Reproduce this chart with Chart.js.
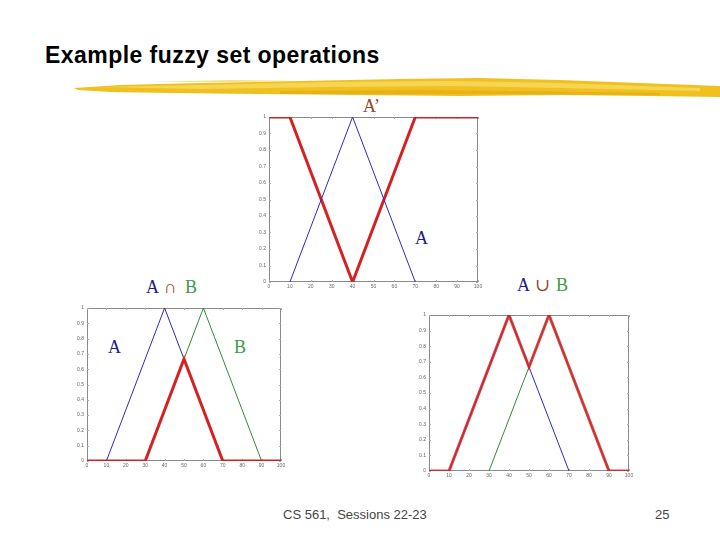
<!DOCTYPE html>
<html>
<head>
<meta charset="utf-8">
<script src="https://cdn.jsdelivr.net/npm/chart.js@4/dist/chart.umd.min.js"></script>
<style>
  html, body { margin: 0; padding: 0; background: #fff; }
  #slide { position: relative; width: 720px; height: 540px; overflow: hidden; }
  canvas { position: absolute; }
  .t { position: absolute; line-height: 1; white-space: nowrap; }
  .serif { font-family: "Liberation Serif", "DejaVu Serif", serif; font-size: 18px; }
  .navy { color: #1c1c8a; }
  .green { color: #3c9a46; }
  .brown { color: #8e4a22; }
</style>
</head>
<body>
<div id="slide">
  <div class="t" style="left:45px;top:42px;font:bold 23px 'Liberation Sans',Arial,sans-serif;letter-spacing:0.45px;color:#000;">Example fuzzy set operations</div>

  <svg style="position:absolute;left:0;top:0" width="720" height="540">
    <polygon points="74,88 120,85 200,83 300,81 400,79 480,78 560,80 640,83 720,86 720,97 650,96 560,95 460,96 360,95 260,94 170,93 110,92 78,90" fill="#efc020"/>
    <polygon points="95,87 200,85 330,82 450,81 560,83 700,88 700,91 560,88 450,86 330,87 200,89" fill="#f8da60" opacity="0.8"/>
    <polygon points="280,91 420,90 520,91 660,93 660,95 520,94 420,94 280,94" fill="#e3ac10" opacity="0.7"/>
    <polygon points="150,82 230,80 300,81 230,82" fill="#f2cc40" opacity="0.6"/>
  </svg>

  <div class="t serif brown" style="left:363px;top:97px;">A’</div>
  <div class="t serif navy" style="left:415px;top:229px;">A</div>

  <div class="t serif navy" style="left:146px;top:278px;">A</div>
  <div class="t serif brown" style="left:164px;top:278px;">∩</div>
  <div class="t serif green" style="left:185px;top:278px;">B</div>

  <div class="t serif navy" style="left:517px;top:276px;">A</div>
  <div class="t serif brown" style="left:535px;top:276px;">∪</div>
  <div class="t serif green" style="left:556px;top:276px;">B</div>

  <div class="t serif navy" style="left:108px;top:338px;">A</div>
  <div class="t serif green" style="left:234px;top:338px;">B</div>

  <canvas id="top" width="235" height="180" style="left:249px;top:112px;width:235px;height:180px"></canvas>
  <canvas id="inter" width="220" height="168" style="left:67px;top:303px;width:220px;height:168px"></canvas>
  <canvas id="union" width="226" height="171" style="left:409px;top:310px;width:226px;height:171px"></canvas>

  <div class="t" style="left:283px;top:507px;font:13px 'Liberation Sans',Arial,sans-serif;color:#444;">CS 561,&nbsp; Sessions 22-23</div>
  <div class="t" style="left:655px;top:507px;font:13px 'Liberation Sans',Arial,sans-serif;color:#444;">25</div>
</div>

<script>
// membership functions, x = universe value, y = degree
const setA_x = [10, 40, 70];
const setA_y = [0, 1, 0];
const setB_x = [30, 60, 90];
const setB_y = [0, 1, 0];
const notA_x = [0, 10, 40, 70, 100];
const notA_y = [1, 1, 0, 1, 1];
const andAB_x = [0, 30, 50, 70, 100];
const andAB_y = [0, 0, 0.667, 0, 0];
const orAB_x = [0, 10, 40, 50, 60, 90, 100];
const orAB_y = [0, 0, 1, 0.667, 1, 0, 0];

const RED = '#d42222';
const RED_SOFT = 'rgba(212, 34, 34, 0.85)';
const BLUE = '#2a2ac4';
const GREEN = '#2e8a36';

function pts(xs, ys) {
    return xs.map((x, i) => ({ x: x, y: ys[i] }));
}

function line(xs, ys, color, width) {
    return {
        data: pts(xs, ys),
        borderColor: color,
        borderWidth: width,
        pointRadius: 0,
        tension: 0,
        fill: false
    };
}

// matlab style frame with little inward ticks
const boxPlugin = {
    id: 'box',
    beforeDatasetsDraw(chart) {
        const { ctx, chartArea: a, scales } = chart;
        ctx.save();
        ctx.strokeStyle = '#8a8a8a';
        ctx.lineWidth = 1;
        ctx.strokeRect(a.left + 0.5, a.top + 0.5, a.right - a.left - 1, a.bottom - a.top - 1);
        ctx.strokeStyle = '#aaa';
        ctx.beginPath();
        scales.x.ticks.forEach(t => {
            const px = Math.round(scales.x.getPixelForValue(t.value)) + 0.5;
            ctx.moveTo(px, a.bottom); ctx.lineTo(px, a.bottom - 2);
            ctx.moveTo(px, a.top); ctx.lineTo(px, a.top + 2);
        });
        scales.y.ticks.forEach(t => {
            const py = Math.round(scales.y.getPixelForValue(t.value)) + 0.5;
            ctx.moveTo(a.left, py); ctx.lineTo(a.left + 2, py);
            ctx.moveTo(a.right, py); ctx.lineTo(a.right - 2, py);
        });
        ctx.stroke();
        ctx.restore();
    }
};

function makeChart(id, datasets) {
    return new Chart(document.getElementById(id), {
        type: 'line',
        data: { datasets: datasets },
        options: {
            responsive: false,
            animation: false,
            layout: { padding: { left: 0, top: 5, right: 6, bottom: 0 } },
            plugins: { legend: { display: false }, tooltip: { enabled: false } },
            scales: {
                x: {
                    type: 'linear',
                    min: 0,
                    max: 100,
                    ticks: { stepSize: 10, font: { size: 5 }, color: '#666', padding: 2, maxRotation: 0, autoSkip: false },
                    grid: { display: false, drawTicks: false },
                    border: { display: false },
                    afterFit: s => { s.height = 10; s.paddingLeft = 0; s.paddingRight = 0; }
                },
                y: {
                    min: 0,
                    max: 1,
                    ticks: {
                        stepSize: 0.1, font: { size: 5 }, color: '#666', padding: 3, autoSkip: false,
                        callback: v => String(+v.toFixed(1))
                    },
                    grid: { display: false, drawTicks: false },
                    border: { display: false },
                    afterFit: s => { s.width = 20; s.paddingTop = 0; s.paddingBottom = 0; }
                }
            }
        },
        plugins: [boxPlugin]
    });
}

makeChart('top', [
    line(setA_x, setA_y, BLUE, 1),
    line(notA_x, notA_y, RED, 3)
]);

// red drawn on top here
makeChart('inter', [
    line(andAB_x, andAB_y, RED, 3),
    line(setA_x, setA_y, BLUE, 1),
    line(setB_x, setB_y, GREEN, 1)
]);

// union on top, slightly see-through so the thin lines darken it
makeChart('union', [
    line(orAB_x, orAB_y, RED_SOFT, 3),
    line(setA_x, setA_y, BLUE, 1),
    line(setB_x, setB_y, GREEN, 1)
]);
</script>
</body>
</html>
